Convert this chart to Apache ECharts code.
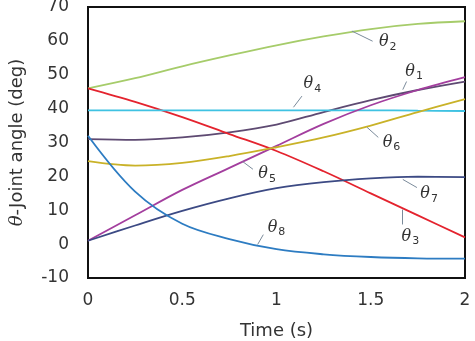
<!DOCTYPE html>
<html>
<head>
<meta charset="UTF-8">
<title>Joint angles</title>
<style>
    html, body { margin: 0; padding: 0; background: #fff; }
    #chart { width: 475px; height: 341px; }
</style>
<script src="https://cdn.jsdelivr.net/npm/echarts@6.0.0/dist/echarts.min.js"></script>
</head>
<body>
<div id="chart"></div>
<script>
    // time samples (s)
    var time = [0, 0.25, 0.5, 0.75, 1, 1.25, 1.5, 1.75, 2];

    // joint angles (deg)
    var theta1 = [31, 30.8, 31.5, 33, 35.3, 39, 42.5, 45.5, 48];
    var theta2 = [46, 49, 52.5, 55.7, 58.7, 61.3, 63.5, 65, 65.8];
    var theta3 = [46, 42, 37.5, 32.5, 27.5, 21.5, 15, 8.5, 2];
    var theta4 = [39.5, 39.5, 39.5, 39.5, 39.5, 39.5, 39.5, 39.4, 39.3];
    var theta5 = [1, 8.5, 16, 22.5, 29, 35.5, 41, 45.5, 49.3];
    var theta6 = [24.5, 23.2, 24, 26, 28.6, 31.5, 35, 39, 42.8];
    var theta7 = [1, 5.5, 9.8, 13.5, 16.5, 18.3, 19.4, 19.9, 19.8];
    var theta8 = [32, 15.5, 6, 1.5, -1.5, -3, -3.8, -4.2, -4.3];

    var yTicks = [-10, 0, 10, 20, 30, 40, 50, 60, 70];
    var xTicks = [0, 0.5, 1, 1.5, 2];

    // curve labels: [index, t, value]
    var labelPos = [
        ['1', 1.73, 51],
        ['2', 1.59, 59.6],
        ['3', 1.71, 2.2],
        ['4', 1.19, 47.2],
        ['5', 0.95, 20.6],
        ['6', 1.61, 30],
        ['7', 1.81, 14.7],
        ['8', 1.0, 4.9]
    ];
    // leader lines: [t0, v0, t1, v1]
    var leaders = [
        [1.69, 48.0, 1.67, 45.6],
        [1.40, 62.9, 1.51, 59.9],
        [1.665, 10.2, 1.665, 5.8],
        [1.135, 43.7, 1.09, 40.4],
        [0.82, 24.4, 0.875, 22.1],
        [1.48, 34.5, 1.54, 31.5],
        [1.67, 19.1, 1.745, 16.7],
        [0.9, -0.1, 0.93, 2.8]
    ];

    var names = ['θ1', 'θ2', 'θ3', 'θ4', 'θ5', 'θ6', 'θ7', 'θ8'];
    var values = [theta1, theta2, theta3, theta4, theta5, theta6, theta7, theta8];
    var colors = ['#5e4a72', '#a6cc6a', '#e4232e', '#3fc2e2', '#a33e9e', '#c9b228', '#3c4a84', '#2d7cc2'];

    var chart = echarts.init(document.getElementById('chart'));
    var font = '"DejaVu Sans", sans-serif';

    var series = values.map(function (vals, i) {
        return {
            name: names[i],
            type: 'line',
            smooth: 0.35,
            symbol: 'none',
            data: time.map(function (t, k) { return [t, vals[k]]; }),
            lineStyle: { color: colors[i], width: 1.8 },
            z: 3
        };
    });

    // annotation labels and leaders
    series.push({
        type: 'line',
        data: [],
        silent: true,
        markPoint: {
            symbol: 'circle',
            symbolSize: 0,
            label: {
                show: true,
                position: 'inside',
                formatter: function (p) { return '{t|θ}{s|' + p.name + '}'; },
                rich: {
                    t: { fontFamily: 'DejaVu Serif', fontStyle: 'italic', fontSize: 16, color: '#333' },
                    s: { fontFamily: font, fontSize: 11, color: '#333', padding: [9, 0, 0, 1] }
                }
            },
            data: labelPos.map(function (d) { return { name: d[0], coord: [d[1], d[2]] }; })
        },
        markLine: {
            symbol: 'none',
            silent: true,
            label: { show: false },
            lineStyle: { color: '#7a8a9a', width: 1, type: 'solid' },
            data: leaders.map(function (d) {
                return [{ coord: [d[0], d[1]] }, { coord: [d[2], d[3]] }];
            })
        }
    });

    chart.setOption({
        animation: false,
        grid: {
            left: 88, right: 10, top: 7, bottom: 63,
            outerBoundsMode: 'none',
            show: true, borderColor: '#111', borderWidth: 2, backgroundColor: 'transparent'
        },
        xAxis: {
            type: 'value',
            min: xTicks[0], max: xTicks[xTicks.length - 1], interval: 0.5,
            name: 'Time (s)',
            nameLocation: 'middle',
            nameGap: 44,
            nameTextStyle: { fontFamily: font, fontSize: 18, color: '#333' },
            axisLine: { show: false },
            axisTick: { show: false },
            splitLine: { show: false },
            axisLabel: { fontFamily: font, fontSize: 17, color: '#333', margin: 14 }
        },
        yAxis: {
            type: 'value',
            min: yTicks[0], max: yTicks[yTicks.length - 1], interval: 10,
            name: '{i|θ}-Joint angle (deg)',
            nameLocation: 'middle',
            nameRotate: 90,
            nameGap: 62,
            nameTextStyle: {
                fontFamily: font, fontSize: 18, color: '#333',
                rich: { i: { fontFamily: 'DejaVu Serif', fontStyle: 'italic', fontSize: 18, color: '#333' } }
            },
            axisLine: { show: false },
            axisTick: { show: false },
            splitLine: { show: false },
            axisLabel: { fontFamily: font, fontSize: 17, color: '#333', margin: 19 }
        },
        series: series
    });
</script>
</body>
</html>
